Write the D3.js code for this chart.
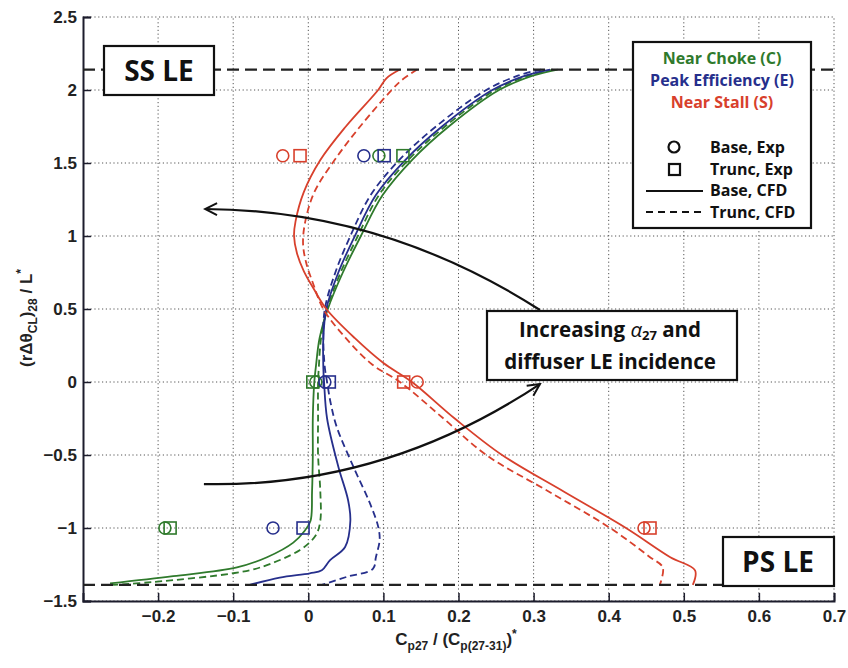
<!DOCTYPE html>
<html><head><meta charset="utf-8">
<script src="https://cdn.jsdelivr.net/npm/d3@7"></script>
<style>body{margin:0;background:#fff}</style>
</head><body><svg id="chart" width="848" height="668"></svg>
<script>
// ---------- data ----------
const xTickValues = [-0.2,-0.1,0,0.1,0.2,0.3,0.4,0.5,0.6,0.7];
const yTickValues = [-1.5,-1,-0.5,0,0.5,1,1.5,2,2.5];
const xDomain = [-0.3, 0.7];
const yDomain = [-1.5, 2.5];
const ssLE = 2.14;
const psLE = -1.39;

const seriesNames = ["Near Choke (C)", "Peak Efficiency (E)", "Near Stall (S)"];
const seriesColors = ["#2f7a2c", "#262f8c", "#d8402c"];

// CFD curves: [x, y]
const chokeBaseCFD = [[0.332,2.14],[0.30,2.10],[0.254,2.0],[0.187,1.75],[0.138,1.52],[0.099,1.28],[0.07,1.0],[0.046,0.75],[0.026,0.5],[0.015,0.3],[0.01,0.1],[0.008,0],[0.006,-0.25],[0.006,-0.5],[0.005,-0.75],[0.003,-0.95],[-0.005,-1.02],[-0.02,-1.1],[-0.055,-1.2],[-0.095,-1.27],[-0.18,-1.33],[-0.264,-1.38]];
const chokeTruncCFD = [[0.326,2.14],[0.295,2.10],[0.249,2.0],[0.182,1.75],[0.133,1.52],[0.094,1.28],[0.066,1.0],[0.043,0.75],[0.025,0.5],[0.017,0.3],[0.014,0.1],[0.013,0],[0.013,-0.25],[0.013,-0.5],[0.016,-0.75],[0.016,-0.95],[0.01,-1.05],[-0.011,-1.15],[-0.064,-1.27],[-0.1,-1.31],[-0.207,-1.37],[-0.26,-1.39]];
const peakBaseCFD = [[0.322,2.14],[0.29,2.10],[0.245,2.0],[0.178,1.75],[0.129,1.52],[0.09,1.28],[0.062,1.0],[0.04,0.75],[0.024,0.5],[0.02,0.3],[0.02,0.1],[0.021,0],[0.025,-0.25],[0.04,-0.58],[0.053,-0.81],[0.056,-0.95],[0.049,-1.13],[0.029,-1.22],[0.018,-1.29],[0.002,-1.31],[-0.038,-1.34],[-0.078,-1.39]];
const peakTruncCFD = [[0.31,2.14],[0.28,2.10],[0.237,2.0],[0.17,1.75],[0.121,1.52],[0.083,1.28],[0.056,1.0],[0.036,0.75],[0.022,0.5],[0.02,0.3],[0.022,0.1],[0.025,0],[0.03,-0.15],[0.038,-0.31],[0.06,-0.58],[0.082,-0.83],[0.093,-0.99],[0.095,-1.08],[0.09,-1.2],[0.086,-1.28],[0.051,-1.335],[0.018,-1.39]];
const stallBaseCFD = [[0.122,2.14],[0.104,2.08],[0.093,2.0],[0.05,1.75],[0.016,1.52],[-0.006,1.3],[-0.017,1.1],[-0.019,1.0],[-0.015,0.88],[-0.006,0.76],[0.007,0.64],[0.024,0.5],[0.062,0.3],[0.1,0.13],[0.138,0],[0.195,-0.25],[0.258,-0.5],[0.34,-0.75],[0.423,-1.0],[0.482,-1.2],[0.515,-1.29],[0.512,-1.39]];
const stallTruncCFD = [[0.145,2.14],[0.125,2.07],[0.111,2.0],[0.069,1.75],[0.035,1.52],[0.008,1.3],[-0.004,1.1],[-0.007,0.95],[-0.003,0.82],[0.006,0.68],[0.02,0.5],[0.05,0.3],[0.085,0.12],[0.122,0],[0.18,-0.25],[0.237,-0.5],[0.32,-0.75],[0.402,-1.0],[0.455,-1.2],[0.472,-1.27],[0.468,-1.39]];

// Experimental points: [x, y]
const chokeBaseExp  = [[0.094,1.55],[0.010,0],[-0.191,-1]];
const chokeTruncExp = [[0.126,1.55],[0.006,0],[-0.184,-1]];
const peakBaseExp   = [[0.074,1.55],[0.022,0],[-0.047,-1]];
const peakTruncExp  = [[0.101,1.55],[0.028,0],[-0.007,-1]];
const stallBaseExp  = [[-0.034,1.55],[0.145,0],[0.447,-1]];
const stallTruncExp = [[-0.011,1.55],[0.127,0],[0.455,-1]];

// Annotation arrows (quadratic: start, control, end) in data units
const arrowUp   = [[0.3085,0.493],[0.1008,1.178],[-0.1375,1.185]];
const arrowDown = [[-0.139,-0.699],[0.1008,-0.726],[0.3085,-0.014]];

// ---------- drawing ----------
const svg = d3.select("#chart");
const x = d3.scaleLinear().domain(xDomain).range([83, 834]);
const y = d3.scaleLinear().domain(yDomain).range([601, 17]);

svg.append("defs").append("marker")
  .attr("id","arrow").attr("markerUnits","userSpaceOnUse")
  .attr("viewBox","-14 -8 16 16").attr("refX",0).attr("refY",0)
  .attr("markerWidth",16).attr("markerHeight",16).attr("orient","auto")
  .append("path").attr("d","M-12,-6 L0,0 L-12,6")
  .attr("fill","none").attr("stroke","#111").attr("stroke-width",2);

// grid
const grid = svg.append("g").attr("stroke","#555").attr("stroke-width",1).attr("stroke-dasharray","1.2,2.6");
grid.selectAll(".gx").data(xTickValues).join("line")
  .attr("x1",d=>x(d)).attr("x2",d=>x(d)).attr("y1",y(yDomain[0])).attr("y2",y(yDomain[1]));
grid.selectAll(".gy").data(yTickValues).join("line")
  .attr("y1",d=>y(d)).attr("y2",d=>y(d)).attr("x1",x(xDomain[0])).attr("x2",x(xDomain[1]));

// axes
const fmt = d => d3.format("")(Math.round(d*10)/10);
const xAxis = svg.append("g").attr("transform",`translate(0,${y(yDomain[0])})`)
  .call(d3.axisBottom(x).tickValues(xTickValues).tickSize(-8).tickPadding(9).tickFormat(fmt));
const yAxis = svg.append("g").attr("transform",`translate(${x(xDomain[0])},0)`)
  .call(d3.axisLeft(y).tickValues(yTickValues).tickSize(-8).tickPadding(6).tickFormat(fmt));
[xAxis,yAxis].forEach(a=>{
  a.select(".domain").attr("stroke","#1c1c2c").attr("stroke-width",2);
  a.selectAll(".tick line").attr("stroke","#1c1c2c").attr("stroke-width",1.5);
  a.selectAll(".tick text").attr("font-family","Liberation Sans, Arial, sans-serif")
    .attr("font-weight","bold").attr("font-size",17).attr("fill","#222");
});

// CFD lines
const line = d3.line().x(d=>x(d[0])).y(d=>y(d[1])).curve(d3.curveCatmullRom.alpha(0.5));
const cfd = [
  {d: chokeBaseCFD, c: 0, dash: null},
  {d: chokeTruncCFD, c: 0, dash: "7,4"},
  {d: peakBaseCFD, c: 1, dash: null},
  {d: peakTruncCFD, c: 1, dash: "7,4"},
  {d: stallBaseCFD, c: 2, dash: null},
  {d: stallTruncCFD, c: 2, dash: "7,4"}
];
svg.append("g").selectAll("path").data(cfd).join("path")
  .attr("d",s=>line(s.d)).attr("fill","none")
  .attr("stroke",s=>seriesColors[s.c]).attr("stroke-width",1.8)
  .attr("stroke-dasharray",s=>s.dash);

// experimental markers
const exp = [
  {d: chokeBaseExp, c:0, t:"o"},{d: chokeTruncExp, c:0, t:"s"},
  {d: peakBaseExp, c:1, t:"o"},{d: peakTruncExp, c:1, t:"s"},
  {d: stallBaseExp, c:2, t:"o"},{d: stallTruncExp, c:2, t:"s"}
];
const mg = svg.append("g").attr("fill","none").attr("stroke-width",1.6);
exp.forEach(s=>{
  if (s.t==="o") {
    mg.selectAll(null).data(s.d).join("circle")
      .attr("cx",d=>x(d[0])).attr("cy",d=>y(d[1])).attr("r",6)
      .attr("stroke",seriesColors[s.c]);
  } else {
    mg.selectAll(null).data(s.d).join("rect")
      .attr("x",d=>x(d[0])-6).attr("y",d=>y(d[1])-6).attr("width",12).attr("height",12)
      .attr("stroke",seriesColors[s.c]);
  }
});

// LE dashed lines
svg.append("g").selectAll("line").data([ssLE, psLE]).join("line")
  .attr("x1",x(xDomain[0])).attr("x2",x(xDomain[1]))
  .attr("y1",d=>y(d)).attr("y2",d=>y(d))
  .attr("stroke","#222").attr("stroke-width",2.2).attr("stroke-dasharray","12,6");

// arrows
const qpath = p => `M${x(p[0][0])},${y(p[0][1])} Q${x(p[1][0])},${y(p[1][1])} ${x(p[2][0])},${y(p[2][1])}`;
svg.append("g").selectAll("path").data([arrowUp, arrowDown]).join("path")
  .attr("d",qpath).attr("fill","none").attr("stroke","#111").attr("stroke-width",2.2)
  .attr("marker-end","url(#arrow)");

// boxes
const boxFont = "Open Sans, Lato, sans-serif";
function box(x0,y0,w,h){
  svg.append("rect").attr("x",x0).attr("y",y0).attr("width",w).attr("height",h)
    .attr("fill","#fff").attr("stroke","#111").attr("stroke-width",2.2);
}
box(104,46,110,49);
svg.append("text").attr("x",159).attr("y",81).attr("text-anchor","middle")
  .attr("font-family",boxFont).attr("font-weight",700).attr("font-size",28).attr("fill","#111").text("SS LE");
box(723,537,111,49);
svg.append("text").attr("x",778).attr("y",572).attr("text-anchor","middle")
  .attr("font-family",boxFont).attr("font-weight",700).attr("font-size",28).attr("fill","#111").text("PS LE");

box(487,311,250,69);
const t1 = svg.append("text").attr("x",610).attr("y",337).attr("text-anchor","middle")
  .attr("font-family",boxFont).attr("font-weight",700).attr("font-size",20.5).attr("fill","#111");
t1.append("tspan").text("Increasing ");
t1.append("tspan").attr("font-style","italic").attr("font-weight",400).text("α");
t1.append("tspan").attr("font-size",13).attr("dy",3).text("27");
t1.append("tspan").attr("dy",-3).text(" and");
svg.append("text").attr("x",610).attr("y",369).attr("text-anchor","middle")
  .attr("font-family",boxFont).attr("font-weight",700).attr("font-size",20.5).attr("fill","#111")
  .text("diffuser LE incidence");

// legend
box(633,42,178,186);
const lg = svg.append("g").attr("font-family",boxFont).attr("font-weight",700).attr("font-size",16);
lg.selectAll(".ln").data(seriesNames).join("text")
  .attr("x",722).attr("y",(d,i)=>64+i*22).attr("text-anchor","middle")
  .attr("fill",(d,i)=>seriesColors[i]).text(d=>d);
const legItems = ["Base, Exp","Trunc, Exp","Base, CFD","Trunc, CFD"];
lg.selectAll(".li").data(legItems).join("text")
  .attr("x",710).attr("y",(d,i)=>153+i*21.7).attr("fill","#111").text(d=>d);
lg.append("circle").attr("cx",674).attr("cy",147).attr("r",5.5).attr("fill","none").attr("stroke","#111").attr("stroke-width",2.2);
lg.append("rect").attr("x",669).attr("y",164).attr("width",11).attr("height",11).attr("fill","none").attr("stroke","#111").attr("stroke-width",2.2);
lg.append("line").attr("x1",646).attr("x2",703).attr("y1",191).attr("y2",191).attr("stroke","#111").attr("stroke-width",2.2);
lg.append("line").attr("x1",646).attr("x2",703).attr("y1",212).attr("y2",212).attr("stroke","#111").attr("stroke-width",2.2).attr("stroke-dasharray","7,5");

// axis labels
const labFont = "Liberation Sans, Arial, sans-serif";
const xl = svg.append("text").attr("x",456).attr("y",645).attr("text-anchor","middle")
  .attr("font-family",labFont).attr("font-weight","bold").attr("font-size",17).attr("fill","#222");
xl.append("tspan").text("C");
xl.append("tspan").attr("font-size",12).attr("dy",5).text("p27");
xl.append("tspan").attr("dy",-5).text(" / (C");
xl.append("tspan").attr("font-size",12).attr("dy",5).text("p(27-31)");
xl.append("tspan").attr("dy",-5).text(")");
xl.append("tspan").attr("font-size",12).attr("dy",-7).text("*");

const yl = svg.append("text").attr("transform","translate(32,318) rotate(-90)").attr("text-anchor","middle")
  .attr("font-family",labFont).attr("font-weight","bold").attr("font-size",17).attr("fill","#222");
yl.append("tspan").text("(rΔθ");
yl.append("tspan").attr("font-size",12).attr("dy",5).text("CL");
yl.append("tspan").attr("dy",-5).text(")");
yl.append("tspan").attr("font-size",12).attr("dy",5).text("28");
yl.append("tspan").attr("dy",-5).text(" / L");
yl.append("tspan").attr("font-size",12).attr("dy",-7).text("*");
</script></body></html>
